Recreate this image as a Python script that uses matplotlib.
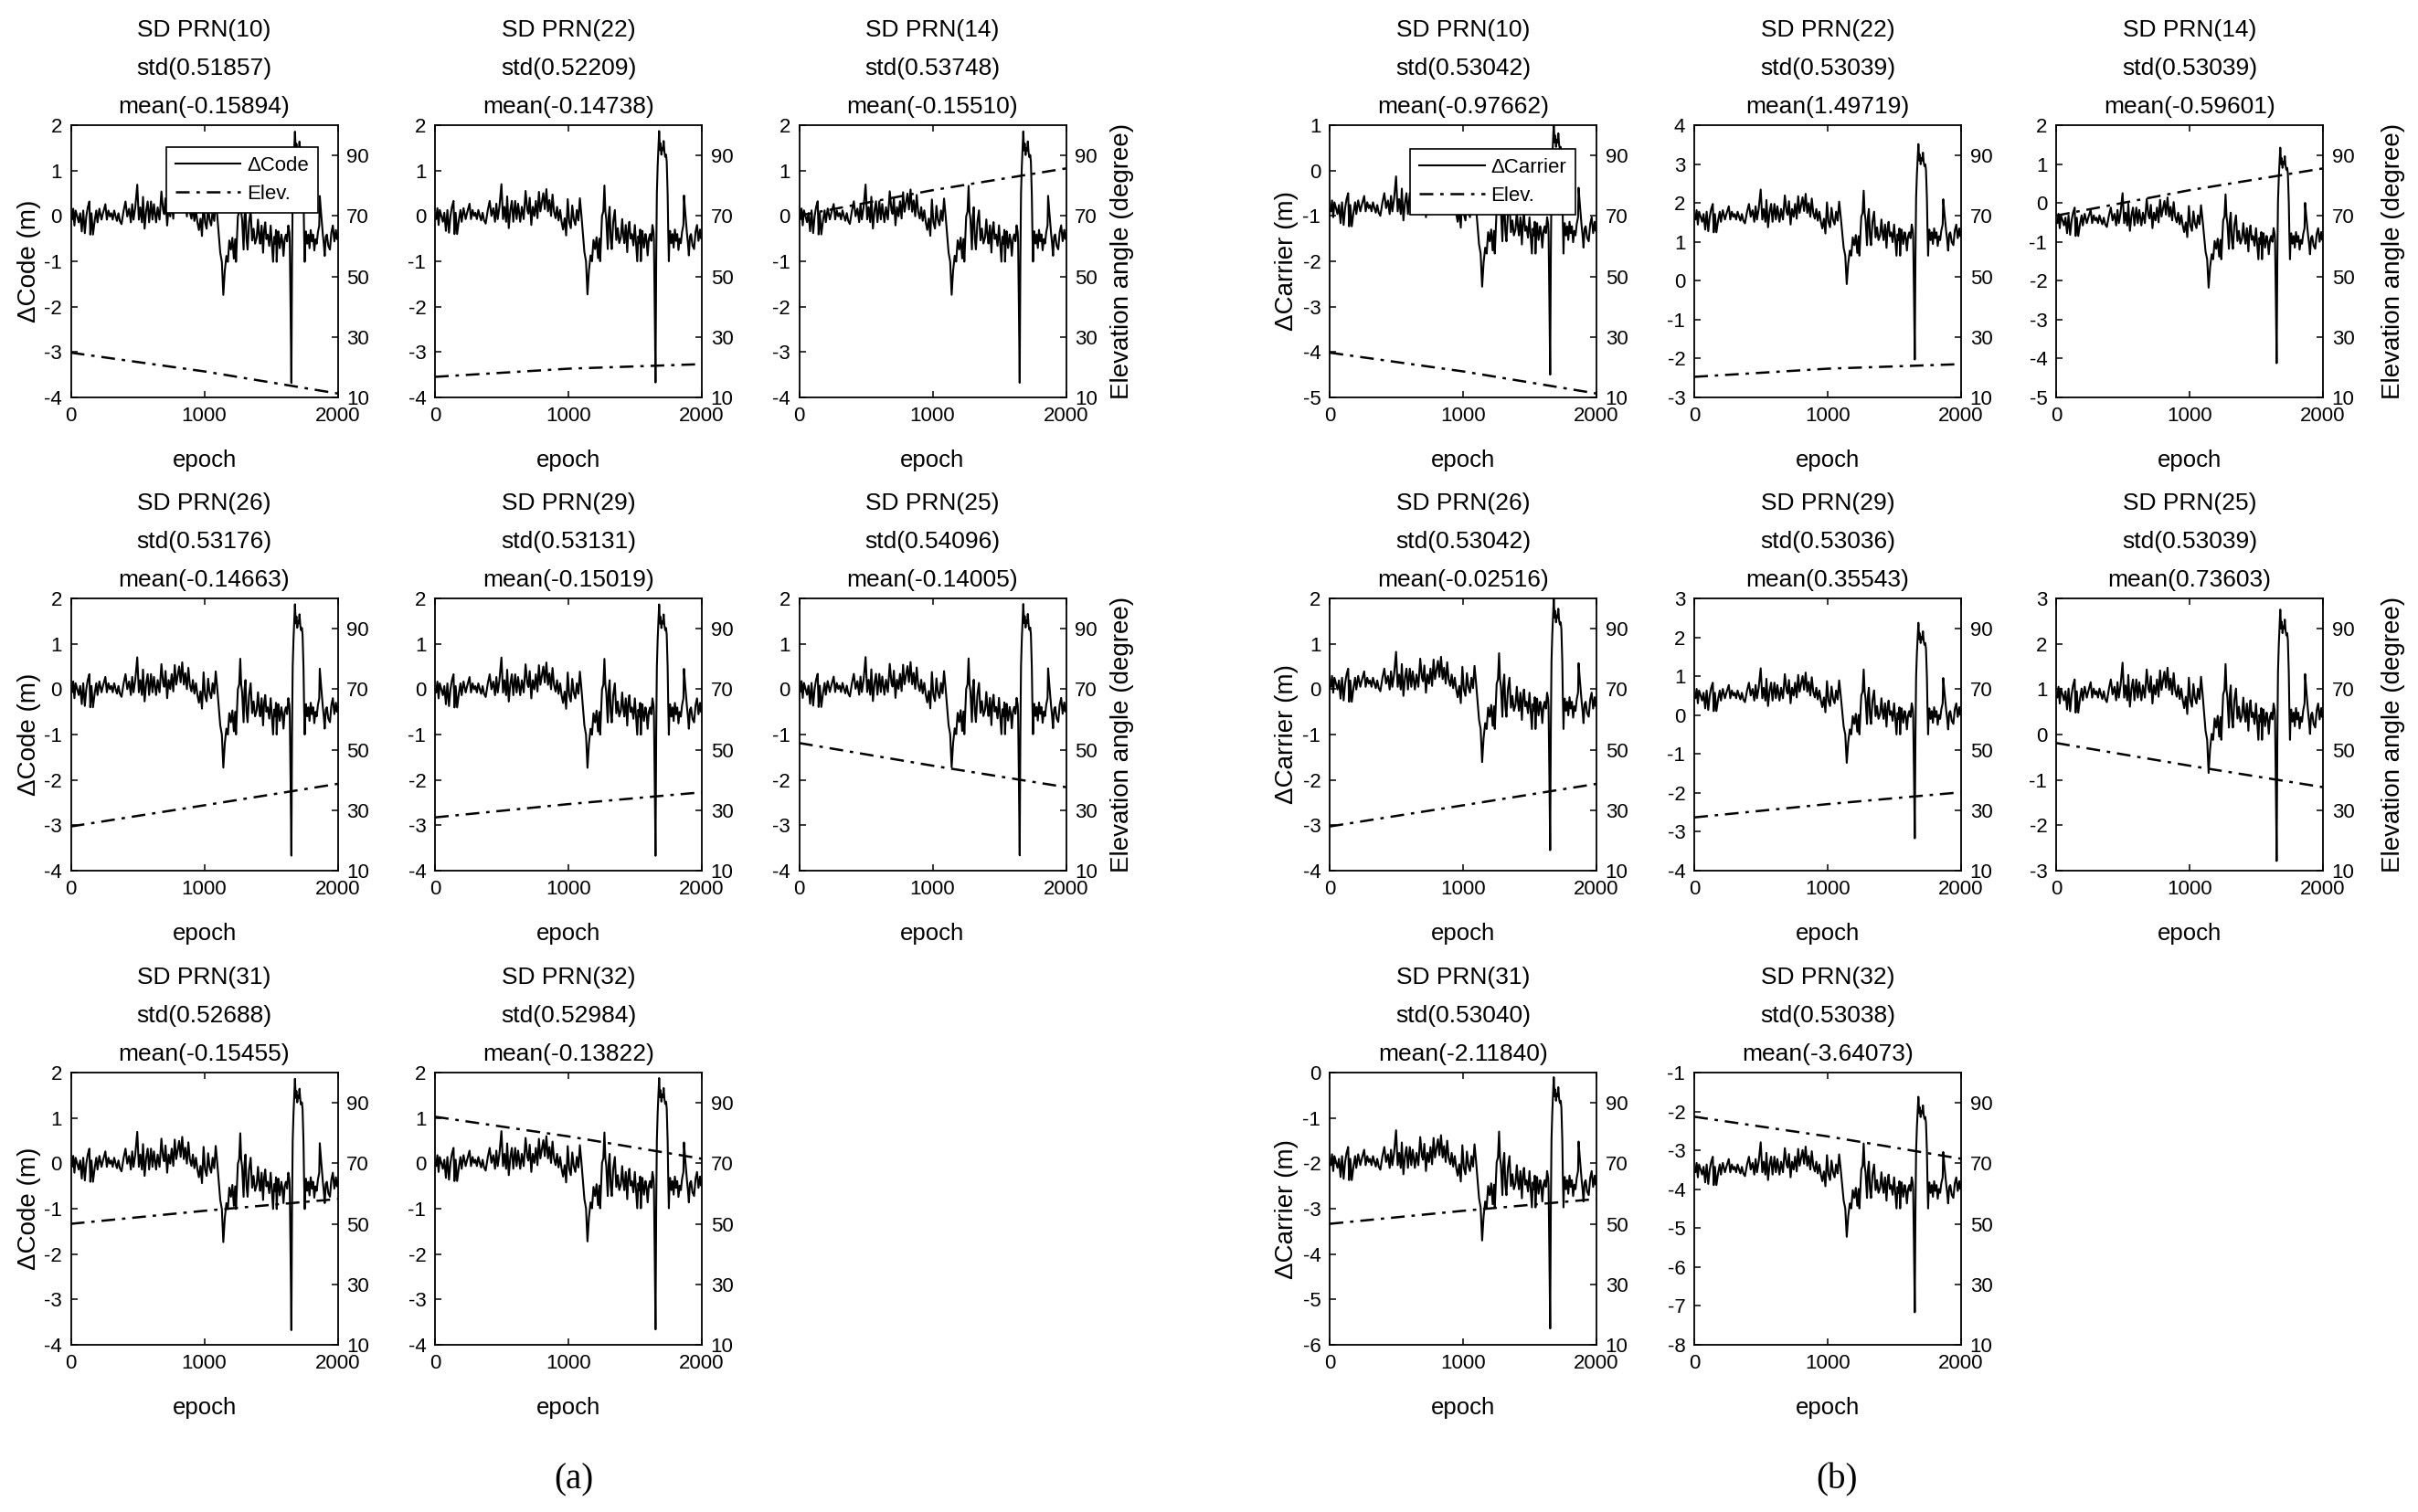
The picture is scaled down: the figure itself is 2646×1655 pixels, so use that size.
import numpy as np
import matplotlib
matplotlib.use("Agg")
import matplotlib.pyplot as plt

plt.rcParams['font.family'] = ['Liberation Sans', 'DejaVu Sans']
plt.rcParams['axes.unicode_minus'] = False

# ---------------- data ----------------
# residual shape read from the SD PRN(22) code panel (epoch, metres)
base_epoch = [0, 9, 18, 27, 36, 48, 59, 70, 82, 93, 105, 116, 127, 139, 146, 155, 166, 180, 191, 200,
              214, 230, 241, 259, 270, 282, 293, 303, 314, 325, 336, 346, 357, 368, 380, 396, 410, 423, 437, 450,
              460, 470, 483, 498, 510, 521, 533, 541, 553, 565, 576, 587, 601, 612, 623, 639, 651, 665, 679, 692,
              700, 710, 722, 733, 745, 756, 768, 779, 790, 801, 812, 823, 835, 847, 858, 870, 881, 892, 904, 915,
              926, 938, 949, 960, 972, 983, 995, 1006, 1018, 1029, 1040, 1052, 1063, 1075, 1086, 1098, 1109, 1120, 1132, 1143,
              1154, 1166, 1177, 1188, 1200, 1211, 1222, 1232, 1238, 1252, 1262, 1270, 1277, 1284, 1295, 1302, 1309, 1317, 1325, 1336,
              1348, 1359, 1370, 1381, 1393, 1403, 1411, 1419, 1430, 1441, 1449, 1457, 1466, 1476, 1487, 1498, 1507, 1516, 1524, 1532,
              1538, 1543, 1549, 1555, 1566, 1578, 1586, 1594, 1603, 1612, 1621, 1630, 1638, 1641, 1647, 1653, 1658, 1663, 1669, 1675,
              1680, 1686, 1691, 1697, 1703, 1709, 1714, 1720, 1726, 1732, 1737, 1744, 1748, 1753, 1758, 1762, 1771, 1780, 1789, 1798,
              1807, 1816, 1825, 1834, 1843, 1852, 1862, 1866, 1875, 1889, 1896, 1903, 1911, 1919, 1930, 1942, 1953, 1964, 1975, 1987,
              1995, 2000]
base_value = [-0.05, -0.07, 0.17, -0.20, 0.13, 0.00, -0.13, 0.07, -0.33, 0.13, -0.37, 0.00, 0.20, 0.33, -0.40, 0.07, -0.40, -0.07, 0.13, -0.13,
              0.17, -0.07, 0.07, 0.27, -0.07, 0.13, 0.00, 0.07, -0.07, 0.13, 0.00, -0.10, 0.07, -0.10, -0.17, 0.13, 0.33, 0.00, 0.17, -0.13,
              0.27, -0.07, 0.20, 0.70, -0.07, 0.20, -0.13, 0.43, -0.27, 0.13, 0.33, -0.13, 0.33, -0.07, 0.27, -0.13, 0.20, -0.07, 0.55, 0.13,
              0.05, 0.40, -0.20, 0.20, 0.00, 0.33, -0.05, 0.53, 0.10, 0.30, 0.50, 0.15, 0.59, 0.10, 0.35, 0.00, 0.47, 0.10, -0.05, 0.20,
              -0.10, 0.13, -0.13, -0.30, -0.05, -0.43, 0.37, -0.13, -0.27, 0.23, -0.07, -0.20, 0.13, -0.10, 0.39, 0.00, -0.40, -0.80, -1.00, -1.73,
              -1.20, -0.87, -1.00, -0.53, -0.73, -0.47, -0.93, -0.50, -1.00, 0.00, 0.10, 0.67, 0.10, -0.07, -0.73, 0.00, 0.20, -0.50, -0.73, -0.13,
              0.13, -0.53, -0.27, -0.60, -0.47, -0.07, -0.40, -0.60, -0.20, -0.80, -0.30, -0.13, -0.50, -0.40, -0.65, -0.20, -0.60, -1.00, -0.45, -0.60,
              -0.30, -1.00, -0.55, -0.33, -0.70, -0.40, -0.55, -0.87, -0.50, -0.40, -0.55, -0.20, -0.35, -0.53, -2.00, -3.67, -1.00, 0.50, 1.10, 1.50,
              1.87, 1.45, 1.60, 1.35, 1.50, 1.45, 1.65, 1.40, 1.30, 1.35, 1.20, 0.47, -0.30, -1.00, -0.40, -0.33, -0.60, -0.40, -0.70, -0.30,
              -0.55, -0.40, -0.75, -0.50, -0.60, -0.35, -0.20, 0.45, 0.10, -0.40, -0.60, -0.87, -0.45, -0.40, -0.65, -0.73, -0.35, -0.20, -0.55, -0.30,
              -0.50, -0.40]
base_mean = -0.14738  # mean of the PRN(22) code series the shape was read from

prns = [10, 22, 14, 26, 29, 25, 31, 32]
code_std = ["0.51857", "0.52209", "0.53748", "0.53176", "0.53131", "0.54096", "0.52688", "0.52984"]
code_mean = ["-0.15894", "-0.14738", "-0.15510", "-0.14663", "-0.15019", "-0.14005", "-0.15455", "-0.13822"]
carr_std = ["0.53042", "0.53039", "0.53039", "0.53042", "0.53036", "0.53039", "0.53040", "0.53038"]
carr_mean = ["-0.97662", "1.49719", "-0.59601", "-0.02516", "0.35543", "0.73603", "-2.11840", "-3.64073"]
carr_ylim = [(-5, 1), (-3, 4), (-5, 2), (-4, 2), (-4, 3), (-3, 3), (-6, 0), (-8, -1)]
code_ylim = [(-4, 2)] * 8

elev_epoch = [0, 1000, 2000]
elev = {10: [24.8, 18.6, 11.3], 22: [16.8, 19.5, 21.0], 14: [70.1, 78.5, 85.7], 26: [24.6, 31.6, 38.7],
        29: [27.6, 32.0, 35.9], 25: [52.2, 44.7, 37.6], 31: [50.0, 54.3, 58.2], 32: [85.4, 78.9, 71.5]}

# ---------------- layout ----------------
W, H = 2646, 1655
fig = plt.figure(figsize=(W / 100, H / 100), dpi=100)

row_tops = [137, 655, 1174]
ax_h = 298
ax_w = 292
col_left_a = [77.5, 476, 874.5]
col_left_b = [1455, 1854, 2250]

ep = np.array(base_epoch)
bv = np.array(base_value)


def fx(px):
    return px / W


def fy(py):
    return 1 - py / H


def panel(left, top, prn, std_s, mean_s, ylim, kind, idx):
    ax = fig.add_axes([fx(left), fy(top + ax_h), fx(ax_w), ax_h / H])
    series = bv + (float(mean_s) - base_mean)
    l1, = ax.plot(ep, series, color='k', lw=1.5)
    ax.set_xlim(0, 2000)
    ax.set_ylim(*ylim)
    ax.set_xticks([0, 1000, 2000])
    ax.set_yticks(list(range(ylim[0], ylim[1] + 1)))
    ax.tick_params(direction='in', top=True, right=True, length=5, width=1.1,
                   labelsize=16, pad=7)
    for s in ax.spines.values():
        s.set_linewidth(1.3)
    ax.set_xlabel('epoch', fontsize=18.5, labelpad=19)
    ax2 = ax.twinx()
    l2, = ax2.plot(elev_epoch, elev[prn], color='k', lw=1.8, ls=(0, (6, 3, 1.5, 3)))
    ax2.set_ylim(10, 100)
    ax2.set_yticks([10, 30, 50, 70, 90])
    ax2.tick_params(direction='in', length=5, width=1.1, labelsize=16, pad=7)
    for s in ax2.spines.values():
        s.set_visible(False)
    cx = left + ax_w / 2
    for k, t in enumerate(["SD PRN(%d)" % prn, "std(%s)" % std_s, "mean(%s)" % mean_s]):
        fig.text(fx(cx), fy(top - 104 + 42 * k), t, ha='center', va='center', fontsize=19)
    if idx == 0:
        lab = '\u0394Code' if kind == 'a' else '\u0394Carrier'
        anchor = (0.926, 0.919) if kind == 'a' else (0.921, 0.913)
        leg = ax2.legend([l1, l2], [lab, 'Elev.'], loc='upper right', bbox_to_anchor=anchor,
                         borderaxespad=0, fontsize=16, handlelength=3.2, handletextpad=0.3,
                         labelspacing=0.45, borderpad=0.45, fancybox=False, framealpha=1,
                         edgecolor='k')
        leg.get_frame().set_linewidth(1.2)
    return ax


for i, prn in enumerate(prns):
    r, c = divmod(i, 3)
    panel(col_left_a[c], row_tops[r], prn, code_std[i], code_mean[i], code_ylim[i], 'a', i)
    panel(col_left_b[c], row_tops[r], prn, carr_std[i], carr_mean[i], carr_ylim[i], 'b', i)

# y labels
for r in range(3):
    cy = row_tops[r] + ax_h / 2
    fig.text(fx(32), fy(cy), '\u0394Code (m)', rotation=90, ha='center', va='center', fontsize=20)
    fig.text(fx(1408), fy(cy), '\u0394Carrier (m)', rotation=90, ha='center', va='center', fontsize=20)
for r in range(2):
    cy = row_tops[r] + ax_h / 2
    fig.text(fx(1228), fy(cy), 'Elevation angle (degree)', rotation=90, ha='center', va='center', fontsize=20)
    fig.text(fx(2619), fy(cy), 'Elevation angle (degree)', rotation=90, ha='center', va='center', fontsize=20)

fig.text(fx(628), fy(1620), '(a)', ha='center', va='center', fontsize=28,
         family=['Liberation Serif', 'DejaVu Serif'])
fig.text(fx(2010), fy(1620), '(b)', ha='center', va='center', fontsize=28,
         family=['Liberation Serif', 'DejaVu Serif'])

fig.savefig('out.png', dpi=100, facecolor='white')
